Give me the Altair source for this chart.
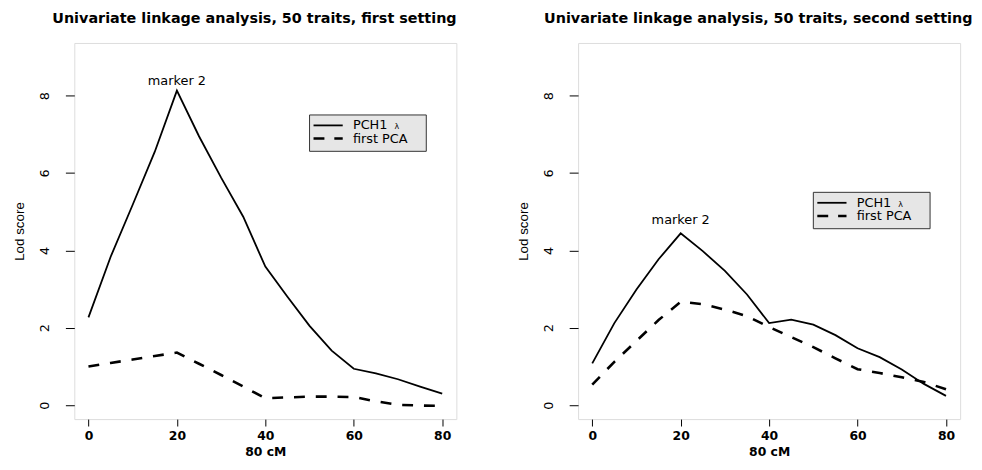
import altair as alt
import pandas as pd

# ---- data ----
x_cm = [0, 5, 10, 15, 20, 25, 30, 35, 40, 45, 50, 55, 60, 65, 70, 75, 80]

first_pch1 = [2.27, 3.83, 5.18, 6.55, 8.13, 6.95, 5.88, 4.87, 3.58, 2.80, 2.05, 1.41, 0.94, 0.82, 0.67, 0.48, 0.30]
first_pca = [1.00, 1.09, 1.18, 1.27, 1.36, 1.07, 0.78, 0.48, 0.18, 0.20, 0.22, 0.22, 0.21, 0.10, 0.01, -0.01, -0.02]

second_pch1 = [1.08, 2.12, 2.99, 3.77, 4.44, 3.98, 3.47, 2.86, 2.12, 2.21, 2.08, 1.81, 1.47, 1.24, 0.92, 0.55, 0.24]
second_pca = [0.53, 1.12, 1.66, 2.20, 2.67, 2.61, 2.47, 2.30, 2.02, 1.76, 1.50, 1.21, 0.93, 0.83, 0.72, 0.60, 0.41]

titles = ["Univariate linkage analysis, 50 traits, first setting",
          "Univariate linkage analysis, 50 traits, second setting"]
series_names = ["PCH1", "first PCA"]
marker_text = "marker 2"
marker_x = 20
marker_label_y = [8.38, 4.79]
legend_top = [7.5, 5.5]
x_ticks = [0, 20, 40, 60, 80]
y_ticks = [0, 2, 4, 6, 8]
x_title = "80 cM"
y_title = "Lod score"

W, H = 386, 380
FONT = "DejaVu Sans"

xs = alt.Scale(domain=[-3.2, 83.2], nice=False, zero=False)
ys = alt.Scale(domain=[-0.36, 9.36], nice=False, zero=False)

x_axis = alt.Axis(values=x_ticks, title=x_title, grid=False, domain=False,
                  ticks=True, tickSize=7, tickColor="black", tickWidth=1,
                  labelFont=FONT, labelFontWeight="bold", labelFontSize=12.5,
                  labelColor="black", labelBaseline="top", labelPadding=4,
                  labelFlush=False,
                  titleFont=FONT, titleFontWeight="bold", titleFontSize=12.5,
                  titleColor="black", titleX=W / 2, titleY=33,
                  titleAlign="center", titleBaseline="middle")
y_axis = alt.Axis(values=y_ticks, title=y_title, grid=False, domain=False,
                  ticks=True, tickSize=9, tickColor="black", tickWidth=1,
                  labelFont=FONT, labelFontSize=13, labelColor="black",
                  labelAngle=-90, labelAlign="center", labelBaseline="alphabetic",
                  labelPadding=17, labelFlush=False,
                  titleFont="Liberation Sans", titleFontSize=13.5,
                  titleFontWeight="normal", titleColor="black",
                  titleAngle=-90, titleX=-55, titleY=H / 2,
                  titleAlign="center", titleBaseline="middle")


def X(field):
    return alt.X(field, type="quantitative", scale=xs, axis=x_axis)


def Y(field):
    return alt.Y(field, type="quantitative", scale=ys, axis=y_axis)


def panel(i, pch1, pca):
    df = pd.DataFrame({
        "cM": x_cm + x_cm,
        "lod": pch1 + pca,
        "series": [series_names[0]] * len(x_cm) + [series_names[1]] * len(x_cm),
    })
    base = alt.Chart(df)
    solid = base.transform_filter(alt.datum.series == series_names[0]).mark_line(
        color="black", strokeWidth=1.8).encode(x=X("cM"), y=Y("lod"))
    dashed = base.transform_filter(alt.datum.series == series_names[1]).mark_line(
        color="black", strokeWidth=2.6, strokeDash=[11, 11]).encode(x=X("cM"), y=Y("lod"))

    top = legend_top[i]
    box_df = pd.DataFrame({"x0": [50.0], "x1": [76.4], "y0": [top], "y1": [top - 0.94]})
    box = alt.Chart(box_df).mark_rect(fill="#e6e6e6", stroke="#333333", strokeWidth=1).encode(
        x=X("x0"), x2="x1", y=Y("y0"), y2="y1")

    rows_df = pd.DataFrame({
        "x0": [50.9, 50.9], "x1": [57.5, 57.5],
        "y": [top - 0.27, top - 0.61],
        "tx": [59.8, 59.8],
        "label": series_names,
    })
    rows = alt.Chart(rows_df)
    leg_solid = rows.transform_filter(alt.datum.label == series_names[0]).mark_rule(
        color="black", strokeWidth=1.8).encode(x=X("x0"), x2="x1", y=Y("y"))
    leg_dash = rows.transform_filter(alt.datum.label == series_names[1]).mark_rule(
        color="black", strokeWidth=2.6, strokeDash=[11, 10]).encode(x=X("x0"), x2="x1", y=Y("y"))
    leg_text = rows.mark_text(font=FONT, fontSize=13, align="left",
                              baseline="middle", color="black").encode(
        x=X("tx"), y=Y("y"), text="label:N")
    lam = rows.transform_filter(alt.datum.label == series_names[0]).mark_text(
        text="λ", font=FONT, fontSize=8, align="left", baseline="middle",
        color="black", dx=42, dy=2).encode(x=X("tx"), y=Y("y"))

    mk_df = pd.DataFrame({"mx": [marker_x], "my": [marker_label_y[i]], "t": [marker_text]})
    mk = alt.Chart(mk_df).mark_text(font=FONT, fontSize=13, align="center", baseline="middle",
                                    color="black").encode(x=X("mx"), y=Y("my"), text="t:N")

    return alt.layer(solid, dashed, box, leg_solid, leg_dash, leg_text, lam, mk).properties(
        width=W, height=H,
        title=alt.TitleParams(titles[i], font=FONT, fontSize=14.5, fontWeight="bold",
                              color="black", anchor="middle", dx=-11, offset=17),
    )


chart = alt.hconcat(panel(0, first_pch1, first_pca), panel(1, second_pch1, second_pca),
                    spacing=59).properties(
    padding={"left": 4, "top": 0, "right": 0, "bottom": 0},
).configure_view(stroke="black", strokeWidth=1.2).configure(background="white")

chart.save("out.html", embed_options={"renderer": "svg", "actions": False})
